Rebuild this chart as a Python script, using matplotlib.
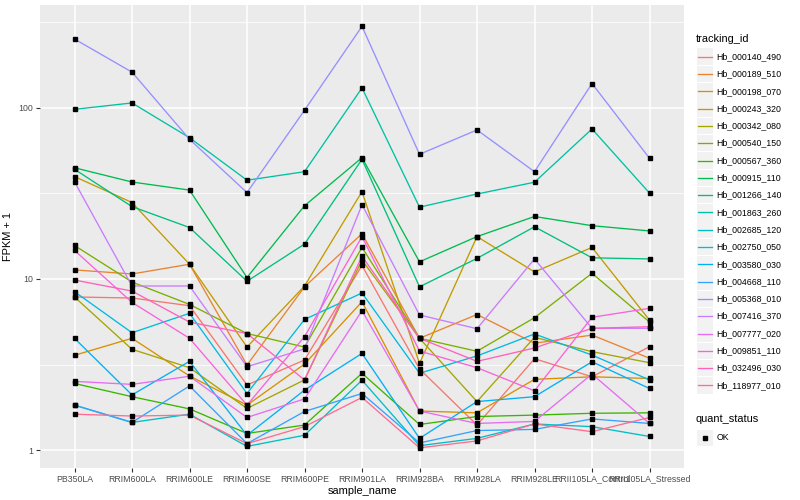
import matplotlib
matplotlib.use('Agg')
import matplotlib.pyplot as plt
from matplotlib.patches import Rectangle
from matplotlib.ticker import FixedLocator

plt.rcParams['font.family'] = ['Liberation Sans', 'DejaVu Sans']

sample_names = ['PB350LA', 'RRIM600LA', 'RRIM600LE', 'RRIM600SE', 'RRIM600PE',
                'RRIM901LA', 'RRIM928BA', 'RRIM928LA', 'RRIM928LE',
                'RRII105LA_Control', 'RRII105LA_Stressed']

tracking_ids = ['Hb_000140_490', 'Hb_000189_510', 'Hb_000198_070', 'Hb_000243_320',
                'Hb_000342_080', 'Hb_000540_150', 'Hb_000567_360', 'Hb_000915_110',
                'Hb_001266_140', 'Hb_001863_260', 'Hb_002685_120', 'Hb_002750_050',
                'Hb_003580_030', 'Hb_004668_110', 'Hb_005368_010', 'Hb_007416_370',
                'Hb_007777_020', 'Hb_009851_110', 'Hb_032496_030', 'Hb_118977_010']

# ggplot default hue palette for 20 groups
hue_colors = ['#F8766D', '#EA8331', '#D89000', '#C09B00', '#A3A500', '#7CAE00',
              '#39B600', '#00BB4E', '#00BF7D', '#00C1A3', '#00BFC4', '#00BAE0',
              '#00B0F6', '#35A2FF', '#9590FF', '#C77CFF', '#E76BF3', '#FA62DB',
              '#FF62BC', '#FF6C91']

# FPKM + 1, one value per sample
hb_000140_490 = [7.85, 7.74, 6.98, 2.40, 3.36, 12.0, 2.98, 1.40, 3.42, 2.68, 4.02]
hb_000189_510 = [11.3, 10.7, 12.2, 3.14, 9.0, 18.4, 4.5, 6.2, 4.21, 4.7, 3.44]
hb_000198_070 = [3.58, 4.5, 2.71, 1.83, 3.18, 7.36, 1.69, 1.65, 2.59, 2.68, 2.62]
hb_000243_320 = [39.7, 28.0, 12.2, 4.0, 9.1, 32.4, 3.21, 17.7, 11.0, 15.3, 5.75]
hb_000342_080 = [7.85, 3.88, 3.03, 1.75, 2.57, 12.9, 4.5, 1.92, 4.56, 3.76, 3.24]
hb_000540_150 = [15.7, 9.6, 7.1, 4.8, 4.0, 15.3, 4.5, 3.78, 5.94, 10.8, 5.6]
hb_000567_360 = [2.45, 2.05, 1.74, 1.25, 1.40, 2.81, 1.41, 1.57, 1.60, 1.64, 1.65]
hb_000915_110 = [44.7, 36.9, 33.1, 10.2, 26.8, 51.2, 12.6, 17.7, 23.2, 20.5, 19.1]
hb_001266_140 = [43.8, 26.5, 20.0, 9.7, 16.0, 50.1, 9.0, 13.2, 20.2, 13.3, 13.1]
hb_001863_260 = [98.2, 107.0, 67.0, 37.8, 42.4, 131.0, 26.3, 31.4, 36.8, 75.4, 31.8]
hb_002685_120 = [1.83, 1.45, 1.62, 1.05, 1.22, 2.56, 1.06, 1.17, 1.42, 1.37, 1.20]
hb_002750_050 = [8.43, 4.85, 6.3, 2.14, 5.8, 8.28, 2.81, 3.55, 4.77, 3.59, 2.57]
hb_003580_030 = [4.5, 2.1, 3.3, 1.22, 2.24, 3.67, 1.17, 1.92, 2.05, 3.28, 2.29]
hb_004668_110 = [1.83, 1.45, 2.37, 1.09, 1.68, 2.14, 1.10, 1.30, 1.32, 1.52, 1.43]
hb_005368_010 = [253.0, 162.0, 65.6, 32.0, 97.0, 300.0, 53.6, 74.4, 42.4, 139.0, 50.8]
hb_007416_370 = [37.0, 9.1, 9.1, 3.07, 3.9, 27.2, 6.16, 5.12, 13.1, 5.15, 5.15]
hb_007777_020 = [2.52, 2.42, 2.7, 1.55, 1.99, 6.53, 1.69, 1.43, 1.47, 2.78, 1.43]
hb_009851_110 = [14.7, 7.3, 4.5, 1.83, 4.6, 17.7, 3.79, 3.03, 2.22, 5.97, 6.74]
hb_032496_030 = [9.86, 8.5, 5.6, 4.8, 2.57, 13.6, 4.5, 3.3, 3.95, 5.15, 5.26]
hb_118977_010 = [1.62, 1.58, 1.60, 1.09, 1.37, 2.03, 1.03, 1.13, 1.42, 1.28, 1.55]

series = [hb_000140_490, hb_000189_510, hb_000198_070, hb_000243_320, hb_000342_080,
          hb_000540_150, hb_000567_360, hb_000915_110, hb_001266_140, hb_001863_260,
          hb_002685_120, hb_002750_050, hb_003580_030, hb_004668_110, hb_005368_010,
          hb_007416_370, hb_007777_020, hb_009851_110, hb_032496_030, hb_118977_010]

fig = plt.figure(figsize=(8, 5), dpi=100)
ax = fig.add_axes([0.05, 0.064, 0.805, 0.926])
ax.set_facecolor('#EBEBEB')
for s in ax.spines.values():
    s.set_visible(False)

x = list(range(len(sample_names)))
for vals, col in zip(series, hue_colors):
    ax.plot(x, vals, color=col, lw=0.95, zorder=3)
for vals in series:
    ax.plot(x, vals, ls='none', marker='s', ms=2.5, color='black', zorder=4)

ax.set_yscale('log')
ax.set_ylim(0.785, 400)
ax.set_xlim(-0.6, 10.6)
ax.set_xticks(x)
ax.set_xticklabels(sample_names)
ax.yaxis.set_major_locator(FixedLocator([1, 10, 100]))
ax.set_yticklabels(['1', '10', '100'])
ax.yaxis.set_minor_locator(FixedLocator([10 ** 0.5, 10 ** 1.5, 10 ** 2.5]))
ax.yaxis.set_minor_formatter(plt.NullFormatter())
ax.tick_params(which='major', length=2.7, width=0.8, color='#333333',
               labelcolor='#4D4D4D', labelsize=6.3, pad=2)
ax.tick_params(which='minor', length=0)
ax.grid(which='major', color='white', lw=1.1, zorder=0)
ax.yaxis.grid(which='minor', color='white', lw=0.55, zorder=0)
ax.set_axisbelow(True)
ax.set_xlabel('sample_name', fontsize=7.9, labelpad=2)
ax.set_ylabel('FPKM + 1', fontsize=7.9, labelpad=4)

# legends, drawn in pixel space
lax = fig.add_axes([0, 0, 1, 1])
lax.set_xlim(0, 800)
lax.set_ylim(500, 0)
lax.axis('off')

lax.text(696, 39, 'tracking_id', fontsize=7.9, va='center', ha='left')
for i, (tid, col) in enumerate(zip(tracking_ids, hue_colors)):
    yc = 56.7 + 17.3 * i
    lax.add_patch(Rectangle((696.5, yc - 8.3), 16.6, 16.6, color='#F2F2F2', lw=0))
    lax.plot([698, 712], [yc, yc], color=col, lw=0.95)
    lax.text(716.5, yc, tid, fontsize=6.3, va='center', ha='left')

lax.text(696, 419, 'quant_status', fontsize=7.9, va='center', ha='left')
lax.add_patch(Rectangle((696.5, 429.5), 16.6, 16.6, color='#F2F2F2', lw=0))
lax.plot([704.8], [437.8], ls='none', marker='s', ms=2.5, color='black')
lax.text(716.5, 437.8, 'OK', fontsize=6.3, va='center', ha='left')

fig.savefig('out.png', dpi=100, facecolor='white')
